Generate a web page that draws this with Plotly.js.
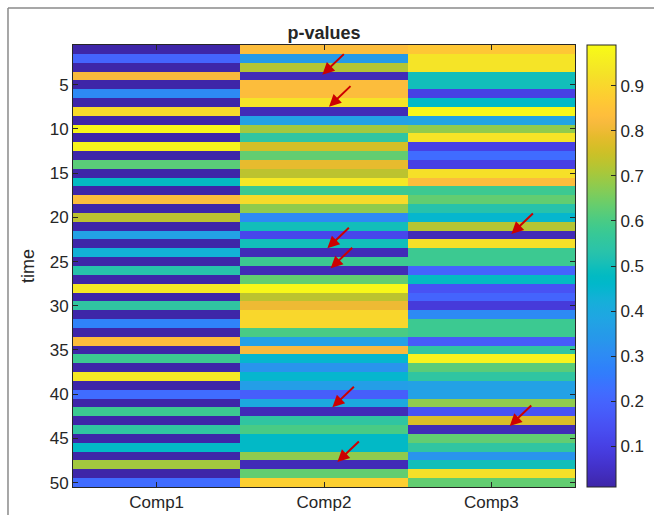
<!DOCTYPE html>
<html>
<head>
<meta charset="utf-8">
<script src="https://cdn.plot.ly/plotly-3.0.1.min.js"></script>
<style>html,body{margin:0;padding:0;background:#fff;}#chart{width:654px;height:515px;}</style>
</head>
<body>
<div id="chart"></div>
<script>
// ---- data ----
const components = ['Comp1', 'Comp2', 'Comp3'];
const times = [1,2,3,4,5,6,7,8,9,10,11,12,13,14,15,16,17,18,19,20,21,22,23,24,25,
               26,27,28,29,30,31,32,33,34,35,36,37,38,39,40,41,42,43,44,45,46,47,48,49,50];
const comp1 = [0.01,0.20,0.01,0.82,0.01,0.30,0.01,0.91,0.01,0.98,
               0.01,0.97,0.01,0.62,0.01,0.48,0.01,0.83,0.01,0.73,
               0.01,0.37,0.01,0.43,0.01,0.53,0.01,0.94,0.01,0.55,
               0.01,0.28,0.01,0.83,0.01,0.58,0.01,0.94,0.01,0.22,
               0.01,0.58,0.01,0.55,0.01,0.47,0.01,0.70,0.01,0.22];
const comp2 = [0.83,0.35,0.72,0.03,0.83,0.83,0.93,0.03,0.37,0.70,
               0.55,0.76,0.63,0.79,0.73,0.94,0.58,0.91,0.68,0.30,
               0.50,0.12,0.50,0.03,0.58,0.03,0.63,0.98,0.73,0.80,
               0.90,0.90,0.60,0.37,0.82,0.45,0.33,0.45,0.36,0.18,
               0.40,0.03,0.55,0.60,0.47,0.47,0.68,0.03,0.63,0.88];
const comp3 = [0.86,0.93,0.93,0.50,0.50,0.10,0.47,0.98,0.38,0.68,
               0.93,0.10,0.22,0.10,0.92,0.83,0.58,0.63,0.53,0.45,
               0.72,0.03,0.92,0.58,0.58,0.20,0.48,0.15,0.20,0.08,
               0.30,0.58,0.58,0.17,0.55,0.97,0.62,0.55,0.37,0.37,
               0.68,0.15,0.77,0.03,0.63,0.55,0.33,0.50,0.92,0.63];
const colorbarTicks = [0.1,0.2,0.3,0.4,0.5,0.6,0.7,0.8,0.9];
const yTicks = [5,10,15,20,25,30,35,40,45,50];
// arrows: head at [component index, time], tail offset in pixels
const arrowHeads = [[0.99,3.86],[1.03,7.48],[2.12,21.88],[1.02,23.5],[1.04,25.76],[1.05,41.48],[2.11,43.6],[1.08,47.67]];

// ---- parula colormap ----
const parula = [
[0.2422,0.1504,0.6603],[0.2504,0.1650,0.7076],[0.2578,0.1818,0.7511],[0.2647,0.1978,0.7952],
[0.2706,0.2147,0.8364],[0.2751,0.2342,0.8710],[0.2783,0.2559,0.8991],[0.2803,0.2782,0.9221],
[0.2813,0.3006,0.9414],[0.2810,0.3228,0.9579],[0.2795,0.3447,0.9717],[0.2760,0.3667,0.9829],
[0.2699,0.3892,0.9906],[0.2602,0.4123,0.9952],[0.2440,0.4358,0.9988],[0.2206,0.4603,0.9973],
[0.1963,0.4847,0.9892],[0.1834,0.5074,0.9798],[0.1786,0.5289,0.9682],[0.1764,0.5499,0.9520],
[0.1687,0.5703,0.9359],[0.1540,0.5902,0.9218],[0.1460,0.6091,0.9079],[0.1380,0.6276,0.8973],
[0.1248,0.6459,0.8883],[0.1113,0.6635,0.8763],[0.0952,0.6798,0.8598],[0.0689,0.6948,0.8394],
[0.0297,0.7082,0.8163],[0.0036,0.7203,0.7917],[0.0067,0.7312,0.7660],[0.0433,0.7411,0.7394],
[0.0964,0.7500,0.7120],[0.1408,0.7584,0.6842],[0.1717,0.7670,0.6554],[0.1938,0.7758,0.6251],
[0.2161,0.7843,0.5923],[0.2470,0.7918,0.5567],[0.2906,0.7973,0.5188],[0.3406,0.8008,0.4789],
[0.3909,0.8029,0.4354],[0.4456,0.8024,0.3909],[0.5044,0.7993,0.3480],[0.5616,0.7942,0.3045],
[0.6174,0.7876,0.2612],[0.6720,0.7793,0.2227],[0.7242,0.7698,0.1910],[0.7738,0.7598,0.1646],
[0.8203,0.7498,0.1535],[0.8634,0.7406,0.1596],[0.9035,0.7330,0.1774],[0.9393,0.7288,0.2100],
[0.9728,0.7298,0.2394],[0.9956,0.7434,0.2371],[0.9970,0.7659,0.2199],[0.9952,0.7893,0.2028],
[0.9892,0.8136,0.1885],[0.9786,0.8386,0.1766],[0.9676,0.8639,0.1643],[0.9610,0.8890,0.1537],
[0.9597,0.9135,0.1423],[0.9628,0.9373,0.1265],[0.9691,0.9606,0.1064],[0.9769,0.9839,0.0805]];
const colorscale = parula.map((c, i) => [i / (parula.length - 1),
  'rgb(' + c.map(v => Math.round(v * 255)).join(',') + ')']);

const z = times.map((t, i) => [comp1[i], comp2[i], comp3[i]]);

const fontFam = 'Liberation Sans, Arial, Helvetica, sans-serif';
const ink = '#262626';

const trace = {
  type: 'heatmap',
  x: components,
  y: times,
  z: z,
  zmin: 0.01,
  zmax: 0.99,
  colorscale: colorscale,
  colorbar: {
    x: 1.0239, xanchor: 'left', xref: 'paper',
    y: 0.5, yanchor: 'middle', yref: 'paper',
    len: 1, lenmode: 'fraction',
    thickness: 29, thicknessmode: 'pixels',
    xpad: 0, ypad: 0,
    outlinewidth: 1, outlinecolor: ink,
    tickvals: colorbarTicks,
    ticks: 'inside', ticklen: 5, tickcolor: ink,
    tickfont: {family: fontFam, size: 17, color: ink}
  }
};

const annotations = arrowHeads.map(h => ({
  x: h[0], y: h[1], xref: 'x', yref: 'y',
  text: '', showarrow: true,
  ax: 23, ay: -22,
  arrowcolor: '#cc0000', arrowwidth: 2, arrowhead: 2, arrowsize: 1.2
}));

const layout = {
  width: 654, height: 515,
  margin: {l: 73, r: 79, t: 45, b: 28, pad: 0, autoexpand: false},
  paper_bgcolor: '#ffffff',
  plot_bgcolor: '#ffffff',
  font: {family: fontFam, color: ink, size: 17},
  title: {
    text: '<b>p-values</b>',
    font: {family: fontFam, size: 18, color: ink},
    x: 0.5, xref: 'paper', xanchor: 'center',
    y: 0.936, yref: 'container', yanchor: 'middle'
  },
  xaxis: {
    type: 'category',
    showline: true, linecolor: ink, linewidth: 1, mirror: 'ticks',
    ticks: 'inside', ticklen: 5, tickcolor: ink,
    tickfont: {family: fontFam, size: 17, color: ink},
    showgrid: false, zeroline: false, fixedrange: true
  },
  yaxis: {
    range: [50.5, 0.5],
    tickvals: yTicks,
    showline: true, linecolor: ink, linewidth: 1, mirror: 'ticks',
    ticks: 'inside', ticklen: 5, tickcolor: ink,
    tickfont: {family: fontFam, size: 17, color: ink},
    showgrid: false, zeroline: false,
    title: {text: 'time', font: {family: fontFam, size: 18, color: ink}, standoff: 10}
  },
  annotations: annotations,
  shapes: [
    {type: 'line', xref: 'paper', yref: 'paper', x0: -0.1295, x1: 1.2, y0: 1.0837, y1: 1.0837,
     line: {color: '#8a8a8a', width: 1.5}},
    {type: 'line', xref: 'paper', yref: 'paper', x0: -0.1295, x1: -0.1295, y0: 1.0837, y1: -0.1,
     line: {color: '#8a8a8a', width: 1.5}}
  ]
};

Plotly.newPlot('chart', [trace], layout, {displayModeBar: false, staticPlot: true});
</script>
</body>
</html>
